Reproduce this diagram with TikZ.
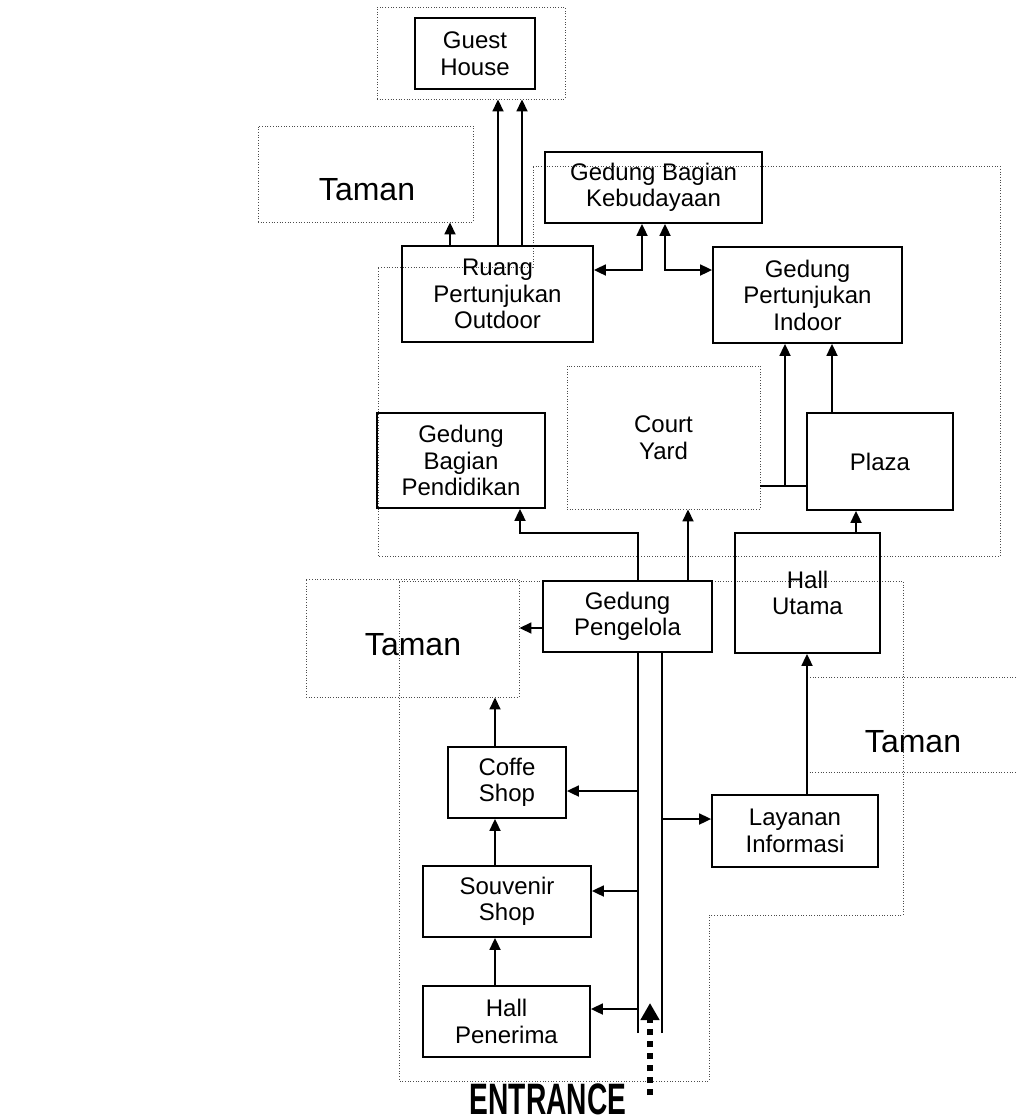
\documentclass[tikz,border=0pt]{standalone}
\usepackage{fontspec}
\setmainfont{Liberation Sans}
\usepackage{graphicx}
\usetikzlibrary{arrows.meta}
\begin{document}
\begin{tikzpicture}[x=1pt,y=-1pt,
  room/.style={draw, line width=1.8pt, inner sep=0pt, align=center,
    font=\fontsize{24}{26.5}\selectfont},
  zone/.style={draw=black!70, line width=0.9pt, dash pattern=on 0.9pt off 1.8pt,
    inner sep=0pt, align=center, font=\fontsize{24}{26.5}\selectfont},
  garden/.style={font=\fontsize{32}{36}\selectfont, inner sep=0pt},
  link/.style={line width=1.8pt},
  tip/.tip={Triangle[length=12pt,width=11pt]},
  arr/.style={link, -tip},
  arrs/.style={link, tip-tip},
  entr/.style={line width=6pt, dash pattern=on 6pt off 6pt,
    -{Triangle[length=17pt,width=18pt]}},
]
\useasboundingbox (0,0) rectangle (1017,1117);

% --- site zones (dotted) ---
\node[zone, minimum width=188pt, minimum height=92pt] (guestlot) at (471,53) {};
\node[zone, minimum width=215pt, minimum height=96pt] (taman1) at (365.5,174) {};
\node[zone, minimum width=193pt, minimum height=143pt] (court) at (663.5,437.5) {Court\\Yard};
\node[zone, minimum width=213pt, minimum height=118pt] (taman2) at (412.5,638) {};
\node[zone, minimum width=223pt, minimum height=95pt] (taman3) at (918.5,724.5) {};
\draw[zone] (533,166) -- (1000,166) -- (1000,556) -- (378,556) -- (378,267) -- (533,267) -- cycle;
\draw[zone] (399,581) -- (903,581) -- (903,915) -- (709,915) -- (709,1081) -- (399,1081) -- cycle;

\node[garden] (t1) at (367,190) {Taman};
\node[garden] (t2) at (413,645) {Taman};
\node[garden] (t3) at (913,742) {Taman};

% --- buildings ---
\node[room, minimum width=120pt, minimum height=71pt] (guest) at (475,53.5) {Guest\\House};
\node[room, minimum width=217pt, minimum height=71pt] (keb) at (653.5,187.5) {Gedung Bagian\\Kebudayaan};
\node[room, minimum width=191pt, minimum height=96pt] (ruang) at (497.5,294) {Ruang\\Pertunjukan\\Outdoor};
\node[room, minimum width=189pt, minimum height=96pt] (indoor) at (807.5,295) {Gedung\\Pertunjukan\\Indoor};
\node[room, minimum width=168pt, minimum height=95pt] (pend) at (461,460.5) {Gedung\\Bagian\\Pendidikan};
\node[room, minimum width=146pt, minimum height=97pt] (plaza) at (880,461.5) {Plaza};
\node[room, minimum width=145pt, minimum height=120pt] (hallu) at (807.5,593) {Hall\\Utama};
\node[room, minimum width=169pt, minimum height=71pt] (peng) at (627.5,616.5) {Gedung\\Pengelola};
\node[room, minimum width=118pt, minimum height=71pt] (coffe) at (507,782.5) {Coffe\\Shop};
\node[room, minimum width=168pt, minimum height=71pt] (souv) at (507,901.5) {Souvenir\\Shop};
\node[room, minimum width=166pt, minimum height=72pt] (lay) at (795,831) {Layanan\\Informasi};
\node[room, minimum width=167pt, minimum height=71pt] (pener) at (506.5,1021.5) {Hall\\Penerima};

\node[inner sep=0pt] (entrance) at (548,1099)
  {\scalebox{0.64}[1]{\fontsize{44}{44}\selectfont\bfseries ENTRANCE}};

% --- circulation ---
\coordinate (trunkA) at (638,1033);
\coordinate (trunkB) at (662,1033);
\coordinate (bendP) at (520,533);
\coordinate (gate) at (650,1095);
\coordinate (gateTip) at (650,1003);

\draw[arr] (450,0 |- ruang.north) -- (450,0 |- taman1.south);
\draw[arr] (498,0 |- ruang.north) -- (498,0 |- guestlot.south);
\draw[arr] (522,0 |- ruang.north) -- (522,0 |- guestlot.south);
\draw[arrs] (ruang.east |- 0,270) -| (642,0 |- keb.south);
\draw[arrs] (665,0 |- keb.south) |- (indoor.west |- 0,270);

\draw[arr] (832,0 |- plaza.north) -- (832,0 |- indoor.south);
\draw[link] (court.east |- 0,486) -- (plaza.west |- 0,486);
\draw[arr] (785,486) -- (785,0 |- indoor.south);
\draw[arr] (856,0 |- hallu.north) -- (856,0 |- plaza.south);

\draw[link] (trunkA) -- (trunkA |- peng.south);
\draw[arr] (638,0 |- peng.north) |- (bendP) -- (bendP |- pend.south);
\draw[link] (trunkB) -- (trunkB |- peng.south);
\draw[arr] (688,0 |- peng.north) -- (688,0 |- court.south);

\draw[arr] (peng.west |- 0,628) -- (taman2.east |- 0,628);
\draw[arr] (trunkA |- 0,791) -- (coffe.east |- 0,791);
\draw[arr] (trunkA |- 0,891) -- (souv.east |- 0,891);
\draw[arr] (trunkA |- 0,1009) -- (pener.east |- 0,1009);
\draw[arr] (trunkB |- 0,819) -- (lay.west |- 0,819);

\draw[arr] (495,0 |- coffe.north) -- (495,0 |- taman2.south);
\draw[arr] (495,0 |- souv.north) -- (495,0 |- coffe.south);
\draw[arr] (495,0 |- pener.north) -- (495,0 |- souv.south);
\draw[arr] (807,0 |- lay.north) -- (807,0 |- hallu.south);

\draw[entr] (gate) -- (gateTip);
\end{tikzpicture}
\end{document}
